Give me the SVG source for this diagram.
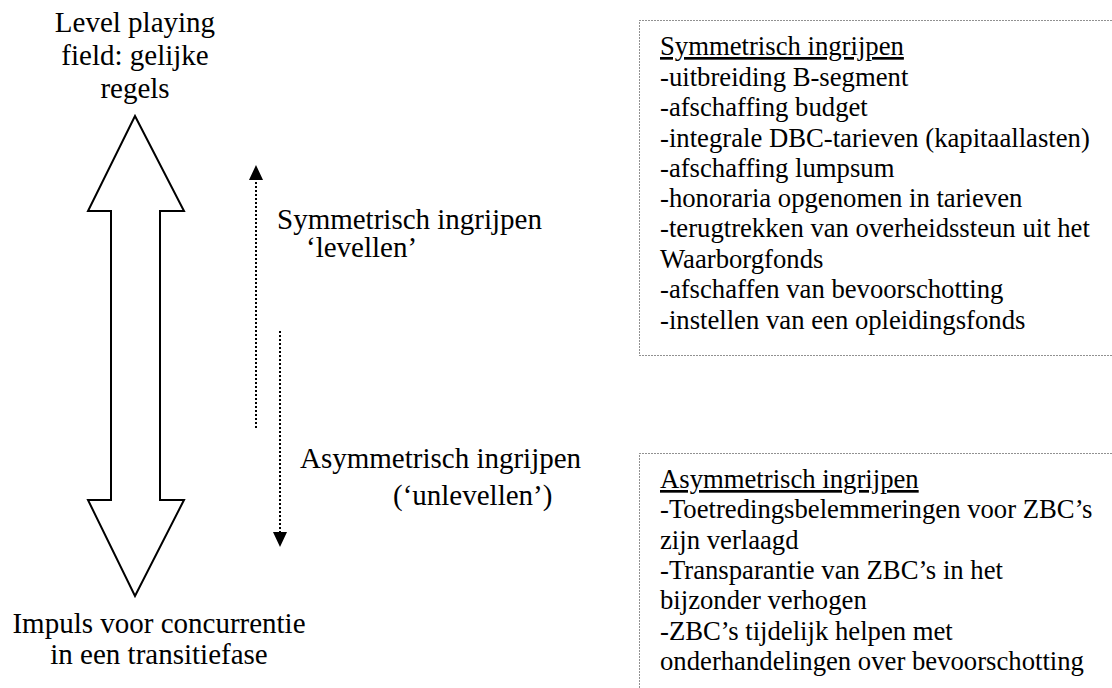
<svg xmlns="http://www.w3.org/2000/svg" width="1112" height="688" viewBox="0 0 1112 688">
  <defs>
    <style>
      .frame { fill: #fff; stroke: #222; stroke-width: 1; stroke-dasharray: 1 2; }
      .dots { fill: none; stroke: #000; stroke-width: 2; stroke-dasharray: 2 2; }
      .tip { fill: #000; stroke: none; }
    </style>
  </defs>
  <rect width="1112" height="688" fill="#fff"/>

  <!-- double-headed block arrow -->
  <g id="double-arrow">
    <polygon points="135,116 184,211 160,211 160,500 184,500 135,596 88,500 111,500 111,211 88,211" fill="#fff" stroke="#000" stroke-width="2"/>
  </g>

  <g id="top-label" font-family="Liberation Serif" font-size="29" text-anchor="middle">
    <text x="135" y="32" font-family="Liberation Serif">Level playing</text>
    <text x="135" y="65" font-family="Liberation Serif">field: gelijke</text>
    <text x="135" y="98" font-family="Liberation Serif">regels</text>
  </g>

  <g id="bottom-label" font-family="Liberation Serif" font-size="29" text-anchor="middle">
    <text x="159" y="633" font-family="Liberation Serif">Impuls voor concurrentie</text>
    <text x="159" y="664" font-family="Liberation Serif">in een transitiefase</text>
  </g>

  <!-- dotted direction arrows -->
  <g id="connectors">
    <line class="dots" x1="256" y1="428" x2="256" y2="180"/>
    <polygon class="tip" points="256,165 249,180 263,180"/>
    <line class="dots" x1="280" y1="331" x2="280" y2="532"/>
    <polygon class="tip" points="280,547 273,532 287,532"/>
  </g>

  <g id="sym-label" font-family="Liberation Serif" font-size="29">
    <text x="277" y="229" font-family="Liberation Serif">Symmetrisch ingrijpen</text>
    <text x="306" y="257" font-family="Liberation Serif">&#8216;levellen&#8217;</text>
  </g>

  <g id="asym-label" font-family="Liberation Serif" font-size="29">
    <text x="300" y="468" font-family="Liberation Serif">Asymmetrisch ingrijpen</text>
    <text x="393" y="505" font-family="Liberation Serif">(&#8216;unlevellen&#8217;)</text>
  </g>

  <g id="sym-box" font-family="Liberation Serif" font-size="26.7">
    <rect class="frame" x="639.5" y="20.5" width="490" height="335"/>
    <text x="660" y="55" font-family="Liberation Serif" text-decoration="underline">Symmetrisch ingrijpen</text>
    <text x="660" y="86" font-family="Liberation Serif">-uitbreiding B-segment</text>
    <text x="660" y="116" font-family="Liberation Serif">-afschaffing budget</text>
    <text x="660" y="147" font-family="Liberation Serif">-integrale DBC-tarieven (kapitaallasten)</text>
    <text x="660" y="177" font-family="Liberation Serif">-afschaffing lumpsum</text>
    <text x="660" y="207" font-family="Liberation Serif">-honoraria opgenomen in tarieven</text>
    <text x="660" y="237" font-family="Liberation Serif">-terugtrekken van overheidssteun uit het</text>
    <text x="660" y="268" font-family="Liberation Serif">Waarborgfonds</text>
    <text x="660" y="298" font-family="Liberation Serif">-afschaffen van bevoorschotting</text>
    <text x="660" y="329" font-family="Liberation Serif">-instellen van een opleidingsfonds</text>
  </g>

  <g id="asym-box" font-family="Liberation Serif" font-size="26.7">
    <rect class="frame" x="639.5" y="453.5" width="490" height="260"/>
    <text x="660" y="488" font-family="Liberation Serif" text-decoration="underline">Asymmetrisch ingrijpen</text>
    <text x="660" y="518" font-family="Liberation Serif">-Toetredingsbelemmeringen voor ZBC&#8217;s</text>
    <text x="660" y="549" font-family="Liberation Serif">zijn verlaagd</text>
    <text x="660" y="579" font-family="Liberation Serif">-Transparantie van ZBC&#8217;s in het</text>
    <text x="660" y="609" font-family="Liberation Serif">bijzonder verhogen</text>
    <text x="660" y="640" font-family="Liberation Serif">-ZBC&#8217;s tijdelijk helpen met</text>
    <text x="660" y="670" font-family="Liberation Serif">onderhandelingen over bevoorschotting</text>
  </g>
</svg>
